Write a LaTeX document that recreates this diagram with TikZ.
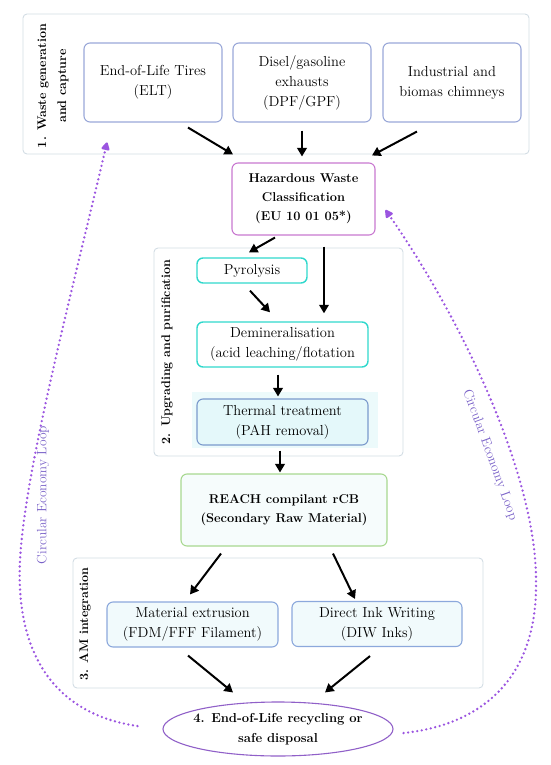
\documentclass[tikz,border=0pt]{standalone}
\usetikzlibrary{arrows.meta,shapes.geometric}
\definecolor{grpc}{HTML}{D3DDE4}
\definecolor{srcc}{HTML}{9AA8D8}
\definecolor{hazc}{HTML}{C878D0}
\definecolor{tealc}{HTML}{30D8CC}
\definecolor{thermc}{HTML}{7B9ACC}
\definecolor{thermf}{HTML}{E4F8FA}
\definecolor{thermbg}{HTML}{ECFAFB}
\definecolor{reachc}{HTML}{A8D890}
\definecolor{reachf}{HTML}{F6FCFC}
\definecolor{amc}{HTML}{8CA8DC}
\definecolor{amf}{HTML}{F1FAFC}
\definecolor{ellc}{HTML}{9060C8}
\definecolor{loopc}{HTML}{9B55E0}
\definecolor{loopt}{HTML}{7A62C8}
\tikzset{
  grp/.style={draw=grpc, line width=0.9pt, rounded corners=4pt},
  glabel/.style={rotate=90, align=center, font=\bfseries\fontsize{12.5}{20}\selectfont},
  boxbase/.style={rounded corners=6pt, line width=1.1pt, align=center, inner sep=0pt,
                  font=\fontsize{14.5}{20}\selectfont},
  srcbox/.style={boxbase, draw=srcc},
  hazbox/.style={boxbase, draw=hazc, font=\bfseries\fontsize{12.8}{19}\selectfont},
  tealbox/.style={boxbase, draw=tealc, line width=1.4pt},
  thermbox/.style={boxbase, draw=thermc, fill=thermf},
  reachbox/.style={boxbase, draw=reachc, fill=reachf, font=\bfseries\fontsize{12.8}{19}\selectfont},
  ambox/.style={boxbase, draw=amc, fill=amf},
  endell/.style={ellipse, draw=ellc, line width=1.1pt, inner xsep=-10pt, inner ysep=-2pt, align=center,
                 font=\bfseries\fontsize{13}{20}\selectfont},
  arr/.style={line width=2pt, -{Triangle[length=8.5pt,width=9.5pt]}},
  loop/.style={draw=loopc, line width=2.6pt, line cap=round, dash pattern=on 0pt off 4.6pt,
               -{Triangle[length=9pt,width=9pt,round]}},
  looplabel/.style={text=loopt, font=\fontsize{13.5}{15}\selectfont}
}
\begin{document}
\begin{tikzpicture}[x=1pt,y=-1pt]
\useasboundingbox (0,0) rectangle (550,765);

% group frames
\node[grp, minimum width=506, minimum height=140] (g1) at (276,84) {};
\node[grp, minimum width=249, minimum height=208] (g2) at (278.5,352) {};
\node[grp, minimum width=410, minimum height=130] (g3) at (278,623) {};

\node[glabel] (l1) at (53,86) {1. Waste generation\\and capture};
\node[glabel] (l2) at (167,352) {2. Upgrading and purification};
\node[glabel] (l3) at (85,624) {3. AM integration};

% sources
\node[srcbox, minimum width=138, minimum height=79] (elt) at (153,82.5) {End-of-Life Tires\\(ELT)};
\node[srcbox, minimum width=138, minimum height=79] (dpf) at (302,82.5) {Disel/gasoline\\exhausts\\(DPF/GPF)};
\node[srcbox, minimum width=138, minimum height=79] (ind) at (452,82.5) {Industrial and\\biomas chimneys};

\node[hazbox, minimum width=143, minimum height=72] (haz) at (303.5,199) {Hazardous Waste\\Classification\\(EU 10 01 05*)};

% stage 2
\fill[thermbg] (192,392) rectangle (378,448);
\node[tealbox, minimum width=110, minimum height=25] (pyro) at (252,270.5) {Pyrolysis};
\node[tealbox, minimum width=171, minimum height=45] (demin) at (282.5,344.5) {Demineralisation\\(acid leaching/flotation};
\node[thermbox, minimum width=171, minimum height=46] (therm) at (282.5,422) {Thermal treatment\\(PAH removal)};

\node[reachbox, minimum width=206, minimum height=72] (reach) at (284,510) {REACH compilant rCB\\(Secondary Raw Material)};

% stage 3
\node[ambox, minimum width=171, minimum height=45] (me) at (192.5,624.5) {Material extrusion\\(FDM/FFF Filament)};
\node[ambox, minimum width=170, minimum height=45] (diw) at (377,624) {Direct Ink Writing\\(DIW Inks)};

\node[endell, minimum width=230, minimum height=54] (ell) at (278,729) {4. End-of-Life recycling or\\safe disposal};

% arrows
\draw[arr] ([xshift=35pt,yshift=-5pt]elt.south) -- ([xshift=-70.5pt,yshift=8pt]haz.north);
\draw[arr] ([yshift=-8pt]dpf.south) -- ([xshift=-1.5pt,yshift=6pt]haz.north);
\draw[arr] ([xshift=-35pt,yshift=-9pt]ind.south) -- ([xshift=68.5pt,yshift=7pt]haz.north);
\draw[arr] ([xshift=-28.5pt,yshift=-2pt]haz.south) -- ([xshift=-3pt,yshift=5pt]pyro.north);
\draw[arr] ([xshift=20.5pt,yshift=-11pt]haz.south) -- ([xshift=41.5pt,yshift=8pt]demin.north);
\draw[arr] ([xshift=-2pt,yshift=-7pt]pyro.south) -- ([xshift=-12.5pt,yshift=9pt]demin.north);
\draw[arr] ([xshift=-4.5pt,yshift=-7pt]demin.south) -- ([xshift=-4.5pt,yshift=2pt]therm.north);
\draw[arr] ([xshift=-2.5pt,yshift=-5pt]therm.south) -- ([xshift=-4pt,yshift=1pt]reach.north);
\draw[arr] ([xshift=-63pt,yshift=-7pt]reach.south) -- ([xshift=-2.5pt,yshift=7pt]me.north);
\draw[arr] ([xshift=49pt,yshift=-7pt]reach.south) -- ([xshift=-22pt,yshift=2pt]diw.north);
\draw[arr] ([xshift=-4.5pt,yshift=-8pt]me.south) -- ([xshift=-45pt,yshift=9pt]ell.north);
\draw[arr] ([xshift=-7pt,yshift=-9pt]diw.south) -- ([xshift=47pt,yshift=9pt]ell.north);

% circular economy loops
\draw[loop] ([xshift=-25pt,yshift=3pt]ell.west) .. controls (60,715) and (15,660) .. (20,560)
            .. controls (25,470) and (70,300) .. ([xshift=-169pt,yshift=12pt]g1.south);
\draw[loop] ([xshift=10pt,yshift=-4pt]ell.east) .. controls (480,725) and (538,680) .. (536,580)
            .. controls (536,475) and (462,320) .. ([xshift=10pt,yshift=-11pt]haz.east);

\node[looplabel, rotate=90] (cl) at (43,495) {Circular Economy Loop};
\node[looplabel, rotate=-70] (cr) at (490,455) {Circular Economy Loop};
\end{tikzpicture}
\end{document}
